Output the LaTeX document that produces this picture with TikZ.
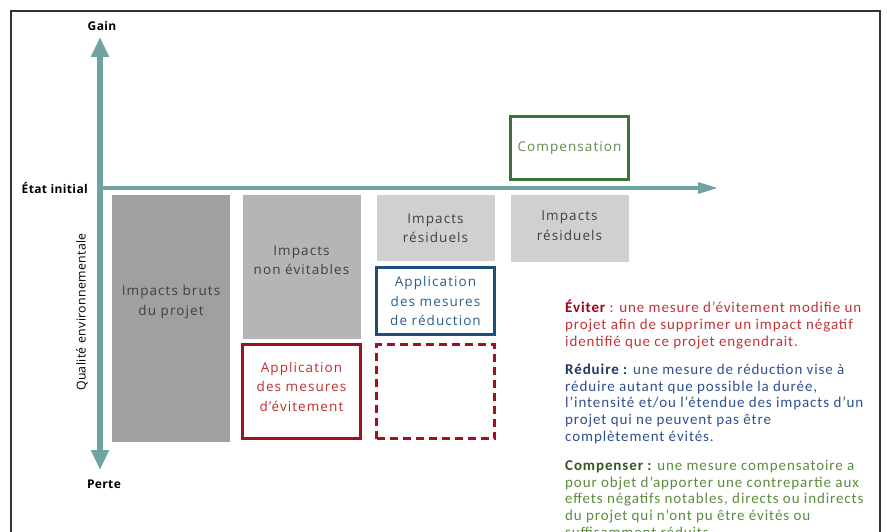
\documentclass[tikz,border=0pt]{standalone}
\usepackage{fontspec}
\setmainfont{Carlito}[LetterSpace=6]
\newfontfamily\boxfont{Open Sans}[LetterSpace=8]
\newfontfamily\axfont{Open Sans}[LetterSpace=3]
\usetikzlibrary{arrows.meta}
\definecolor{axe}{HTML}{6FA3A1}
\definecolor{brut}{HTML}{A0A0A0}
\definecolor{nonev}{HTML}{B5B5B5}
\definecolor{resid}{HTML}{D0D0D0}
\definecolor{rouge}{HTML}{A0111B}
\definecolor{rougetxt}{HTML}{B8302F}
\definecolor{bleu}{HTML}{1F4E79}
\definecolor{bleutxt}{HTML}{2E5C8A}
\definecolor{vert}{HTML}{3E7039}
\definecolor{verttxt}{HTML}{5E8A4E}
\definecolor{evfort}{HTML}{A00018}
\definecolor{evtxt}{HTML}{C0343A}
\definecolor{refort}{HTML}{1F3864}
\definecolor{retxt}{HTML}{2F4F8F}
\definecolor{cofort}{HTML}{375623}
\definecolor{cotxt}{HTML}{5B8C3A}
\tikzset{impact/.style={rectangle, inner sep=0pt, minimum width=118pt, align=center, text=black!75, font=\boxfont\fontsize{13.5}{19.5}\selectfont}}
\tikzset{mesure/.style={impact, draw, line width=2.8pt}}
\tikzset{axtxt/.style={font=\axfont\bfseries\fontsize{12}{13}\selectfont, inner sep=0pt}}
\tikzset{defn/.style={anchor=base west, inner sep=0pt, align=left, font=\fontsize{15}{16.6}\selectfont}}

\begin{document}
\begin{tikzpicture}[x=1pt, y=-1pt]
		\useasboundingbox (0,0) rectangle (887,532);
		\draw[line width=1.4pt, black!80] (11,11) rectangle (880,560);
		
		\coordinate (O) at (100,188);
		\coordinate (G) at (100,37);
		\coordinate (P) at (100,470);
		\coordinate (X) at (718,188);
		
		\node[axtxt] (gain) at (102,26) {Gain};
		\node[axtxt, anchor=east] (init) at (88,188) {État initial};
		\node[axtxt] (perte) at (104,484) {Perte};
		\node[rotate=90, inner sep=0pt, font=\axfont\fontsize{12.3}{14}\selectfont] (qual) at (82,312) {Qualité environnementale};
		
		% text depth lifts the label above the box centre
		\node[impact, fill=brut, minimum height=247pt, text depth=36pt] (b) at (171,318.5) {Impacts bruts\\du projet};
		\node[impact, fill=nonev, minimum height=144pt, text depth=14pt] (n) at (301.5,267) {Impacts\\non évitables};
		\node[impact, fill=resid, minimum height=66pt] (r1) at (435.5,228) {Impacts\\résiduels};
		\node[impact, fill=resid, minimum height=67pt, text depth=6pt] (r2) at (569.5,228.5) {Impacts\\résiduels};
		\node[mesure, draw=rouge, text=rougetxt, minimum height=94pt, text depth=10pt] (e) at (301.5,391.5) {Application\\des mesures\\d’évitement};
		\node[mesure, draw=bleu, text=bleutxt, minimum height=67pt] (red) at (435.5,301) {Application\\des mesures\\de réduction};
		\node[mesure, draw=rouge, dash pattern=on 8pt off 5pt, minimum height=94pt] (vide) at (435.5,391.5) {};
		\node[mesure, draw=vert, text=verttxt, minimum height=63pt] (comp) at (569.5,148) {Compensation};
		
		\draw[axe, line width=6pt, {Triangle[width=17pt,length=20pt]}-{Triangle[width=17pt,length=20pt]}] (P) -- (G);
		\draw[axe, line width=3.5pt, -{Triangle[width=11pt,length=20pt]}] ([xshift=-3pt]O) -- (X);
		
		\node[defn, text=evtxt] (ev) at (565,346) {\textbf{\color{evfort}Éviter} : une mesure d’évitement modifie un\\projet afin de supprimer un impact négatif\\identifié que ce projet engendrait.};
		\node[defn, text=retxt] (re) at (565,441) {\textbf{\color{refort}Réduire :} une mesure de réduction vise à\\réduire autant que possible la durée,\\l’intensité et/ou l’étendue des impacts d’un\\projet qui ne peuvent pas être\\complètement évités.};
		\node[defn, text=cotxt] (co) at (565,537) {\textbf{\color{cofort}Compenser :} une mesure compensatoire a\\pour objet d’apporter une contrepartie aux\\effets négatifs notables, directs ou indirects\\du projet qui n’ont pu être évités ou\\suffisamment réduits.};
\end{tikzpicture}
\end{document}
